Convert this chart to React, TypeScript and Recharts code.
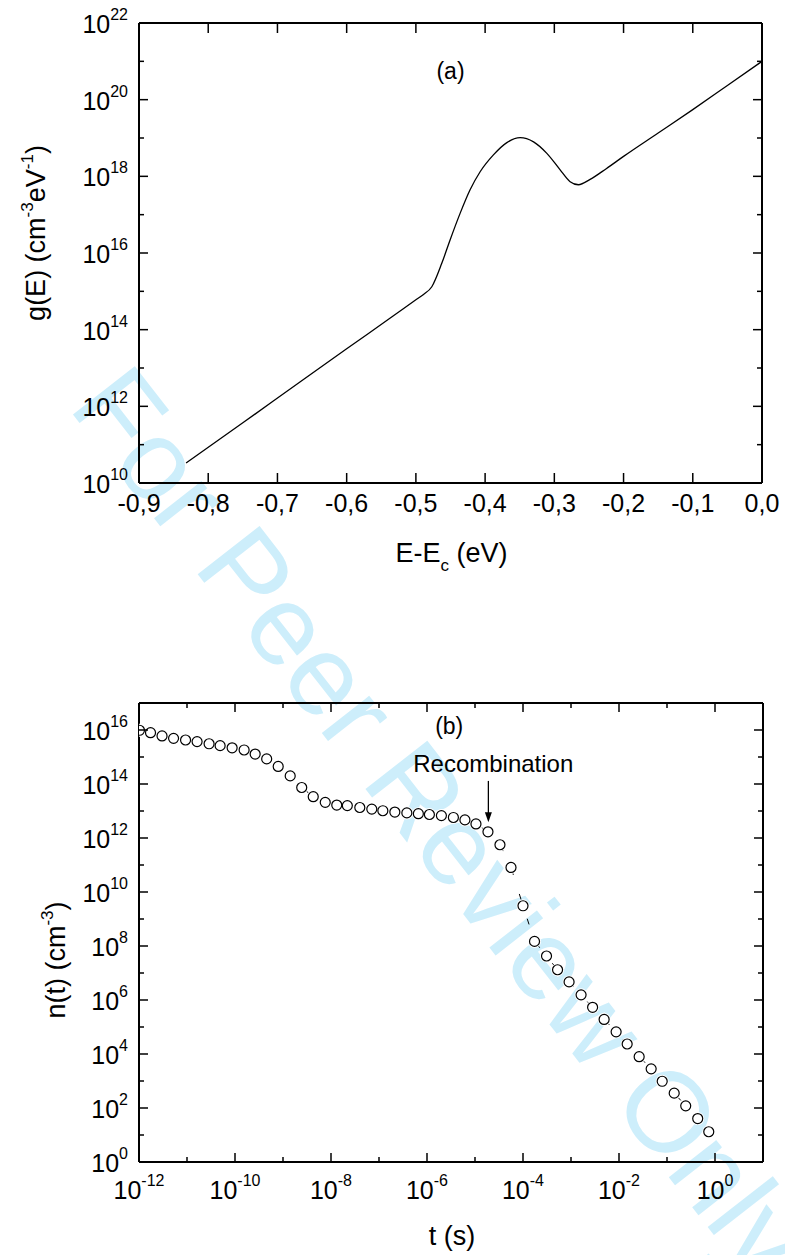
import React from 'react';
import { LineChart, Line, XAxis, YAxis, ReferenceDot, ReferenceLine } from 'recharts';

// (a) density of states: E - Ec (eV) against log10 g(E)
const energy = [-0.832, -0.75, -0.667, -0.6, -0.535, -0.5, -0.489, -0.477, -0.4626, -0.4506, -0.436, -0.4217, -0.4072, -0.388, -0.3686, -0.3494, -0.33, -0.3108, -0.2916, -0.2772, -0.2652, -0.2483, -0.225, -0.2, -0.15, -0.1, -0.05, 0];
const gLog = [10.52, 11.57, 12.64, 13.5, 14.33, 14.78, 14.92, 15.12, 15.73, 16.34, 17.04, 17.65, 18.12, 18.56, 18.88, 19.01, 18.9, 18.6, 18.17, 17.86, 17.78, 17.92, 18.2, 18.52, 19.13, 19.74, 20.37, 21.0];

// (b) carrier density decay: log10 t (s) against log10 n(t)
const tLog = [-11.99, -11.76, -11.52, -11.28, -11.03, -10.79, -10.54, -10.31, -10.06, -9.81, -9.58, -9.34, -9.1, -8.85, -8.61, -8.37, -8.12, -7.88, -7.66, -7.4, -7.15, -6.92, -6.67, -6.42, -6.18, -5.95, -5.7, -5.45, -5.21, -4.98, -4.73, -4.48, -4.25, -4.0, -3.76, -3.51, -3.28, -3.04, -2.79, -2.55, -2.31, -2.06, -1.83, -1.58, -1.33, -1.1, -0.85, -0.61, -0.36, -0.13];
const nLog = [15.99, 15.9, 15.78, 15.69, 15.63, 15.57, 15.49, 15.42, 15.34, 15.26, 15.11, 14.93, 14.65, 14.3, 13.87, 13.53, 13.32, 13.22, 13.2, 13.13, 13.07, 13.01, 12.96, 12.93, 12.9, 12.87, 12.83, 12.76, 12.67, 12.52, 12.23, 11.75, 10.91, 9.49, 8.17, 7.63, 7.12, 6.67, 6.19, 5.73, 5.28, 4.82, 4.37, 3.9, 3.45, 2.99, 2.55, 2.08, 1.61, 1.12];

// axis ticks
const eTicks = [-0.9, -0.8, -0.7, -0.6, -0.5, -0.4, -0.3, -0.2, -0.1, 0];
const gTicks = [1e10, 1e11, 1e12, 1e13, 1e14, 1e15, 1e16, 1e17, 1e18, 1e19, 1e20, 1e21, 1e22];
const tTicks = [1e-12, 1e-11, 1e-10, 1e-9, 1e-8, 1e-7, 1e-6, 1e-5, 1e-4, 1e-3, 1e-2, 1e-1, 1, 10];
const nTicks = [1, 1e1, 1e2, 1e3, 1e4, 1e5, 1e6, 1e7, 1e8, 1e9, 1e10, 1e11, 1e12, 1e13, 1e14, 1e15, 1e16, 1e17];

// annotations (data coordinates)
const panelA = { x: -0.45, y: 3.5e20 };
const panelB = { x: 2.9e-6, y: 7.2e15 };
const recombLabel = { x: 2.4e-5, y: 2.7e14 };
const recombArrow = { x: 1.9e-5, from: 1.3e14, to: 3.8e12 };

const dosData = energy.map((e, i) => ({ e, g: Math.pow(10, gLog[i]) }));
const decayData = tLog.map((v, i) => ({ t: Math.pow(10, v), n: Math.pow(10, nLog[i]) }));

const FONT = '"Liberation Sans", Arial, Helvetica, sans-serif';
const tickStroke = { stroke: '#000', strokeWidth: 1.5 };
const frame = { stroke: '#000', strokeWidth: 2 };

type Side = 'left' | 'right' | 'top' | 'bottom';

const tickLine = (side: Side, x: number, y: number, len: number) => {
  if (side === 'left') return <line x1={x} y1={y} x2={x + len} y2={y} {...tickStroke} />;
  if (side === 'right') return <line x1={x} y1={y} x2={x - len} y2={y} {...tickStroke} />;
  if (side === 'top') return <line x1={x} y1={y} x2={x} y2={y + len} {...tickStroke} />;
  return <line x1={x} y1={y} x2={x} y2={y - len} {...tickStroke} />;
};

const power = (exp: number) => [
  <tspan key="b" fontSize={25}>10</tspan>,
  <tspan key="e" fontSize={16} dy={-13}>{exp}</tspan>,
];

// decade ticks, inward; even decades get the long tick and a label
const logTick = (side: Side, labelled: boolean) => (props: any) => {
  const { x, y, payload } = props;
  const exp = Math.round(Math.log10(payload.value));
  const major = exp % 2 === 0;
  return (
    <g>
      {tickLine(side, x, y, major ? 9 : 5)}
      {labelled && major && side === 'left' && (
        <text x={x - 11} y={y + 10} textAnchor="end" fontFamily={FONT} fill="#000">{power(exp)}</text>
      )}
      {labelled && major && side === 'bottom' && (
        <text x={x} y={y + 36.5} textAnchor="middle" fontFamily={FONT} fill="#000">{power(exp)}</text>
      )}
    </g>
  );
};

const energyTick = (side: Side, labelled: boolean) => (props: any) => {
  const { x, y, payload } = props;
  return (
    <g>
      {tickLine(side, x, y, 10)}
      {labelled && (
        <text x={x} y={y + 28.5} textAnchor="middle" fontFamily={FONT} fontSize={25} fill="#000">
          {payload.value.toFixed(1).replace('.', ',')}
        </text>
      )}
    </g>
  );
};

const HaloDot = (props: any) => <circle cx={props.cx} cy={props.cy} r={6.5} fill="#fff" />;

const DosChart = () => (
  <LineChart width={785} height={600} data={dosData} margin={{ top: 22, right: 22, bottom: 116, left: 138 }}>
    <XAxis dataKey="e" type="number" domain={[-0.9, 0]} ticks={eTicks} interval={0} height={1}
      tickSize={0} tickMargin={0} tick={energyTick('bottom', true)} axisLine={frame} allowDataOverflow
      label={{
        content: (p: any) => (
          <text x={p.viewBox.x + p.viewBox.width / 2 + 1} y={p.viewBox.y + 79} textAnchor="middle" fontFamily={FONT} fontSize={27} fill="#000">
            <tspan>E-E</tspan>
            <tspan fontSize={17} dy={9}>c</tspan>
            <tspan dy={-9}>{'\u00a0(eV)'}</tspan>
          </text>
        ),
      }}
    />
    <XAxis xAxisId="top" orientation="top" dataKey="e" type="number" domain={[-0.9, 0]} ticks={eTicks} interval={0}
      height={1} tickSize={0} tickMargin={0} tick={energyTick('top', false)} axisLine={frame} allowDataOverflow />
    <YAxis type="number" scale="log" domain={[1e10, 1e22]} ticks={gTicks} interval={0} width={1}
      tickSize={0} tickMargin={0} tick={logTick('left', true)} axisLine={frame} allowDataOverflow
      label={{
        content: (p: any) => {
          const cx = p.viewBox.x + p.viewBox.width - 94;
          const cy = p.viewBox.y + 210;
          return (
            <text x={cx} y={cy} transform={`rotate(-90 ${cx} ${cy})`} textAnchor="middle" fontFamily={FONT} fontSize={27} fill="#000">
              <tspan>g(E) (cm</tspan>
              <tspan fontSize={17} dy={-12}>-3</tspan>
              <tspan dy={12}>eV</tspan>
              <tspan fontSize={17} dy={-12}>-1</tspan>
              <tspan dy={12}>)</tspan>
            </text>
          );
        },
      }}
    />
    <YAxis yAxisId="right" orientation="right" type="number" scale="log" domain={[1e10, 1e22]} ticks={gTicks} interval={0}
      width={1} tickSize={0} tickMargin={0} tick={logTick('right', false)} axisLine={frame} allowDataOverflow />
    <Line dataKey="g" type="monotone" stroke="#000" strokeWidth={1.3} dot={false} isAnimationActive={false} />
    <ReferenceDot x={panelA.x} y={panelA.y} r={0}
      shape={(p: any) => (
        <text x={p.cx} y={p.cy} textAnchor="middle" fontFamily={FONT} fontSize={23} fill="#000">(a)</text>
      )}
    />
  </LineChart>
);

const DecayChart = () => (
  <LineChart width={785} height={655} data={decayData} margin={{ top: 102, right: 21, bottom: 92, left: 138 }}>
    <XAxis dataKey="t" type="number" scale="log" domain={[1e-12, 10]} ticks={tTicks} interval={0} height={1}
      tickSize={0} tickMargin={0} tick={logTick('bottom', true)} axisLine={frame} allowDataOverflow
      label={{
        content: (p: any) => (
          <text x={p.viewBox.x + p.viewBox.width / 2 + 1} y={p.viewBox.y + 83} textAnchor="middle" fontFamily={FONT} fontSize={27} fill="#000">
            t (s)
          </text>
        ),
      }}
    />
    <XAxis xAxisId="top" orientation="top" dataKey="t" type="number" scale="log" domain={[1e-12, 10]} ticks={tTicks}
      interval={0} height={1} tickSize={0} tickMargin={0} tick={logTick('top', false)} axisLine={frame} allowDataOverflow />
    <YAxis type="number" scale="log" domain={[1, 1e17]} ticks={nTicks} interval={0} width={1}
      tickSize={0} tickMargin={0} tick={logTick('left', true)} axisLine={frame} allowDataOverflow
      label={{
        content: (p: any) => {
          const cx = p.viewBox.x + p.viewBox.width - 74;
          const cy = p.viewBox.y + 257;
          return (
            <text x={cx} y={cy} transform={`rotate(-90 ${cx} ${cy})`} textAnchor="middle" fontFamily={FONT} fontSize={27} fill="#000">
              <tspan>n(t) (cm</tspan>
              <tspan fontSize={17} dy={-12}>-3</tspan>
              <tspan dy={12}>)</tspan>
            </text>
          );
        },
      }}
    />
    <YAxis yAxisId="right" orientation="right" type="number" scale="log" domain={[1, 1e17]} ticks={nTicks} interval={0}
      width={1} tickSize={0} tickMargin={0} tick={logTick('right', false)} axisLine={frame} allowDataOverflow />
    <Line dataKey="n" type="linear" stroke="#000" strokeWidth={1} strokeDasharray="6 20" dot={false} isAnimationActive={false} />
    <Line dataKey="n" type="linear" stroke="none" dot={<HaloDot />} isAnimationActive={false} />
    <Line dataKey="n" type="linear" stroke="none" dot={{ r: 5, fill: '#fff', stroke: '#000', strokeWidth: 1.2 }} isAnimationActive={false} />
    <ReferenceDot x={panelB.x} y={panelB.y} r={0}
      shape={(p: any) => (
        <text x={p.cx} y={p.cy} textAnchor="middle" fontFamily={FONT} fontSize={23} fill="#000">(b)</text>
      )}
    />
    <ReferenceDot x={recombLabel.x} y={recombLabel.y} r={0}
      shape={(p: any) => (
        <text x={p.cx} y={p.cy} textAnchor="middle" fontFamily={FONT} fontSize={24} fill="#000">Recombination</text>
      )}
    />
    <ReferenceLine
      segment={[{ x: recombArrow.x, y: recombArrow.from }, { x: recombArrow.x, y: recombArrow.to }]}
      shape={(p: any) => (
        <g>
          <line x1={p.x1} y1={p.y1} x2={p.x2} y2={p.y2 - 8} stroke="#000" strokeWidth={1.3} />
          <polygon points={`${p.x2},${p.y2} ${p.x2 - 3.5},${p.y2 - 10} ${p.x2 + 3.5},${p.y2 - 10}`} fill="#000" />
        </g>
      )}
    />
  </LineChart>
);

export default function App() {
  return (
    <div style={{ position: 'absolute', left: 0, top: 0, width: 785, height: 1255, background: '#fff', overflow: 'hidden' }}>
      <svg width={785} height={1255} style={{ position: 'absolute', left: 0, top: 0 }}>
        <text x={442} y={822} transform="rotate(52 442 822)" textAnchor="middle" dy="0.35em" fontFamily={FONT} fontSize={114} fill="#cdeefb">
          For Peer Review Only
        </text>
      </svg>
      <div style={{ position: 'absolute', left: 0, top: 0 }}>
        <DosChart />
      </div>
      <div style={{ position: 'absolute', left: 0, top: 600 }}>
        <DecayChart />
      </div>
    </div>
  );
}
